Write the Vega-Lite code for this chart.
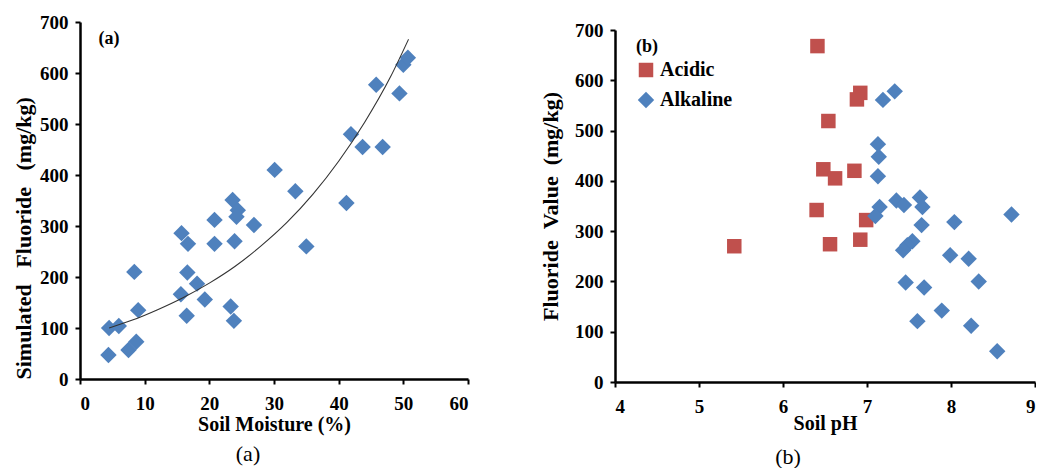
{
  "$schema": "https://vega.github.io/schema/vega-lite/v6.json",
  "padding": {"left": 12, "top": 13, "right": 0, "bottom": 0},
  "bounds": "flush",
  "spacing": 147,
  "config": {
    "view": {"stroke": null},
    "font": "Liberation Serif",
    "axis": {"domainColor": "black", "domainWidth": 2.5, "tickColor": "black", "tickWidth": 2, "tickSize": 5, "grid": false, "labelFont": "Liberation Serif", "labelFontSize": 19, "labelFontWeight": "bold", "labelColor": "black", "titleFont": "Liberation Serif", "titleFontWeight": "bold", "titleColor": "black"},
    "axisX": {"labelPadding": 10, "titleFontSize": 20},
    "axisY": {"labelPadding": 7, "titleFontSize": 22},
    "title": {"font": "Liberation Serif", "fontSize": 22, "fontWeight": "normal", "color": "black"}
  },
  "hconcat": [
    {
      "width": 388,
      "height": 357,
      "title": {"text": "(a)", "orient": "bottom", "anchor": "middle", "dx": -26, "offset": 10},
      "layer": [
        {
          "data": {"values": [
            {"moisture": 4.4, "fluoride": 47}, {"moisture": 4.5, "fluoride": 100}, {"moisture": 6, "fluoride": 104},
            {"moisture": 7.5, "fluoride": 57}, {"moisture": 8.7, "fluoride": 73}, {"moisture": 8.4, "fluoride": 210},
            {"moisture": 9, "fluoride": 135}, {"moisture": 15.6, "fluoride": 166}, {"moisture": 15.7, "fluoride": 286},
            {"moisture": 16.7, "fluoride": 265}, {"moisture": 16.6, "fluoride": 209}, {"moisture": 16.5, "fluoride": 124},
            {"moisture": 18.1, "fluoride": 187}, {"moisture": 19.3, "fluoride": 156}, {"moisture": 20.8, "fluoride": 312},
            {"moisture": 20.8, "fluoride": 265}, {"moisture": 23.6, "fluoride": 351}, {"moisture": 24.4, "fluoride": 331},
            {"moisture": 24.2, "fluoride": 318}, {"moisture": 23.9, "fluoride": 270}, {"moisture": 26.9, "fluoride": 302},
            {"moisture": 23.3, "fluoride": 142}, {"moisture": 23.8, "fluoride": 114}, {"moisture": 30.1, "fluoride": 410},
            {"moisture": 33.3, "fluoride": 368}, {"moisture": 35, "fluoride": 260}, {"moisture": 41.2, "fluoride": 345},
            {"moisture": 41.9, "fluoride": 480}, {"moisture": 43.7, "fluoride": 455}, {"moisture": 46.8, "fluoride": 455},
            {"moisture": 45.8, "fluoride": 577}, {"moisture": 49.4, "fluoride": 560}, {"moisture": 50, "fluoride": 616},
            {"moisture": 50.7, "fluoride": 630}
          ]},
          "mark": {"type": "point", "shape": "diamond", "filled": true, "size": 270, "color": "#4F81BD", "opacity": 1},
          "encoding": {
            "x": {"field": "moisture", "type": "quantitative", "scale": {"domain": [0, 60], "nice": false}, "axis": {"values": [0, 10, 20, 30, 40, 50, 60], "title": "Soil Moisture (%)", "titlePadding": 1}},
            "y": {"field": "fluoride", "type": "quantitative", "scale": {"domain": [0, 700], "nice": false}, "axis": {"values": [0, 100, 200, 300, 400, 500, 600, 700], "title": "Simulated\u00a0\u00a0\u00a0Fluoride\u00a0\u00a0\u00a0(mg/kg)", "titleAnchor": "start", "titlePadding": 4}}
          }
        },
        {
          "data": {"values": [
            {"moisture": 4.5, "fluoride": 100}, {"moisture": 8, "fluoride": 115}, {"moisture": 12, "fluoride": 136},
            {"moisture": 16, "fluoride": 160}, {"moisture": 20, "fluoride": 188}, {"moisture": 24, "fluoride": 221},
            {"moisture": 28, "fluoride": 261}, {"moisture": 32, "fluoride": 307}, {"moisture": 36, "fluoride": 362},
            {"moisture": 40, "fluoride": 427}, {"moisture": 44, "fluoride": 503}, {"moisture": 48, "fluoride": 592},
            {"moisture": 50.8, "fluoride": 666}
          ]},
          "mark": {"type": "line", "color": "#333333", "strokeWidth": 1.1, "interpolate": "monotone"},
          "encoding": {
            "x": {"field": "moisture", "type": "quantitative"},
            "y": {"field": "fluoride", "type": "quantitative"}
          }
        },
        {
          "data": {"values": [{"label": "(a)"}]},
          "mark": {"type": "text", "font": "Liberation Serif", "fontSize": 18, "fontWeight": "bold", "color": "black"},
          "encoding": {
            "x": {"datum": 4.5},
            "y": {"datum": 667},
            "text": {"field": "label"}
          }
        }
      ]
    },
    {
      "width": 420,
      "height": 360,
      "title": {"text": "(b)", "orient": "bottom", "anchor": "middle", "dx": -37, "offset": 14},
      "data": {"values": [
        {"ph": 6.41, "fluoride": 668, "group": "Acidic"}, {"ph": 6.92, "fluoride": 575, "group": "Acidic"},
        {"ph": 6.88, "fluoride": 562, "group": "Acidic"}, {"ph": 6.54, "fluoride": 519, "group": "Acidic"},
        {"ph": 6.48, "fluoride": 423, "group": "Acidic"}, {"ph": 6.62, "fluoride": 405, "group": "Acidic"},
        {"ph": 6.85, "fluoride": 420, "group": "Acidic"}, {"ph": 6.40, "fluoride": 342, "group": "Acidic"},
        {"ph": 6.99, "fluoride": 322, "group": "Acidic"}, {"ph": 6.56, "fluoride": 274, "group": "Acidic"},
        {"ph": 6.92, "fluoride": 283, "group": "Acidic"}, {"ph": 5.42, "fluoride": 270, "group": "Acidic"},
        {"ph": 7.33, "fluoride": 578, "group": "Alkaline"}, {"ph": 7.19, "fluoride": 561, "group": "Alkaline"},
        {"ph": 7.13, "fluoride": 473, "group": "Alkaline"}, {"ph": 7.14, "fluoride": 448, "group": "Alkaline"},
        {"ph": 7.13, "fluoride": 409, "group": "Alkaline"}, {"ph": 7.15, "fluoride": 348, "group": "Alkaline"},
        {"ph": 7.10, "fluoride": 330, "group": "Alkaline"}, {"ph": 7.35, "fluoride": 361, "group": "Alkaline"},
        {"ph": 7.44, "fluoride": 352, "group": "Alkaline"}, {"ph": 7.63, "fluoride": 367, "group": "Alkaline"},
        {"ph": 7.66, "fluoride": 348, "group": "Alkaline"}, {"ph": 7.65, "fluoride": 312, "group": "Alkaline"},
        {"ph": 8.04, "fluoride": 318, "group": "Alkaline"}, {"ph": 8.72, "fluoride": 333, "group": "Alkaline"},
        {"ph": 7.54, "fluoride": 280, "group": "Alkaline"}, {"ph": 7.48, "fluoride": 272, "group": "Alkaline"},
        {"ph": 7.43, "fluoride": 262, "group": "Alkaline"}, {"ph": 7.99, "fluoride": 252, "group": "Alkaline"},
        {"ph": 8.21, "fluoride": 245, "group": "Alkaline"}, {"ph": 7.46, "fluoride": 198, "group": "Alkaline"},
        {"ph": 7.68, "fluoride": 188, "group": "Alkaline"}, {"ph": 8.33, "fluoride": 200, "group": "Alkaline"},
        {"ph": 7.89, "fluoride": 142, "group": "Alkaline"}, {"ph": 7.60, "fluoride": 121, "group": "Alkaline"},
        {"ph": 8.24, "fluoride": 112, "group": "Alkaline"}, {"ph": 8.55, "fluoride": 61, "group": "Alkaline"}
      ]},
      "mark": {"type": "point", "filled": true, "opacity": 1},
      "encoding": {
        "x": {"field": "ph", "type": "quantitative", "scale": {"domain": [4, 9], "nice": false}, "axis": {"values": [4, 5, 6, 7, 8, 9], "title": "Soil pH", "titlePadding": -3}},
        "y": {"field": "fluoride", "type": "quantitative", "scale": {"domain": [0, 700], "nice": false, "range": [360, 8]}, "axis": {"values": [0, 100, 200, 300, 400, 500, 600, 700], "title": "Fluoride\u00a0\u00a0Value\u00a0\u00a0(mg/kg)", "titlePadding": 12}},
        "color": {"field": "group", "type": "nominal", "scale": {"domain": ["Acidic", "Alkaline"], "range": ["#C0504D", "#4F81BD"]},
          "legend": {"orient": "none", "legendX": 556, "legendY": 16, "title": "(b)", "titleFont": "Liberation Serif", "titleFontSize": 18, "titleFontWeight": "bold", "titleColor": "black", "titlePadding": 4, "labelFont": "Liberation Serif", "labelFontSize": 20, "labelFontWeight": "bold", "labelColor": "black", "symbolSize": 210, "rowPadding": 10, "labelOffset": 4}},
        "shape": {"field": "group", "type": "nominal", "scale": {"domain": ["Acidic", "Alkaline"], "range": ["square", "diamond"]},
          "legend": {"orient": "none", "legendX": 556, "legendY": 16, "title": "(b)", "titleFont": "Liberation Serif", "titleFontSize": 18, "titleFontWeight": "bold", "titleColor": "black", "titlePadding": 4, "labelFont": "Liberation Serif", "labelFontSize": 20, "labelFontWeight": "bold", "labelColor": "black", "symbolSize": 210, "rowPadding": 10, "labelOffset": 4}},
        "size": {"field": "group", "type": "nominal", "scale": {"domain": ["Acidic", "Alkaline"], "range": [210, 270]}, "legend": null}
      }
    }
  ]
}
